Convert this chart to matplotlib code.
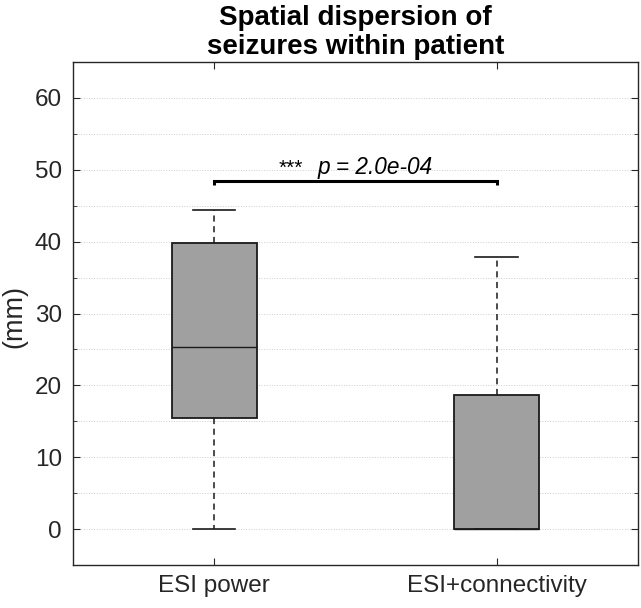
import matplotlib
matplotlib.use("Agg")
import matplotlib.pyplot as plt
from matplotlib.ticker import MultipleLocator

plt.rcParams['font.family'] = ['Liberation Sans', 'DejaVu Sans']

# Box statistics (mm)
groups = ["ESI power", "ESI+connectivity"]
q1 = [15.4, 0.0]
med = [25.3, 0.0]
q3 = [39.8, 18.7]
whis_lo = [0.0, 0.0]
whis_hi = [44.35, 37.9]

p_text = "p = 2.0e-04"
sig_y = 48.4

stats = []
for i in range(len(groups)):
    stats.append(dict(label=groups[i], q1=q1[i], med=med[i], q3=q3[i],
                      whislo=whis_lo[i], whishi=whis_hi[i], fliers=[]))

fig = plt.figure(figsize=(6.41, 6.08), dpi=100)
ax = fig.add_axes([0.114, 0.0707, 0.881, 0.8273])

ax.bxp(stats, positions=[1, 2], widths=0.3, patch_artist=True,
       boxprops=dict(facecolor='#a0a0a0', edgecolor='#1a1a1a', linewidth=1.3),
       medianprops=dict(color='#1a1a1a', linewidth=1.0),
       whiskerprops=dict(color='#1a1a1a', linestyle=(0, (4, 3)), linewidth=1.1),
       capprops=dict(color='#1a1a1a', linewidth=1.2),
       capwidths=0.15)

ax.set_xlim(0.5, 2.5)
ax.set_ylim(-5, 65)
ax.yaxis.set_major_locator(MultipleLocator(10))
ax.yaxis.set_minor_locator(MultipleLocator(5))
ax.set_xticks([1, 2])
ax.set_xticklabels(groups)
ax.tick_params(axis='both', which='both', direction='in', top=True, right=True,
               colors='#262626', labelsize=17.5)
ax.tick_params(axis='x', which='minor', bottom=False, top=False)
ax.tick_params(which='major', length=5)
ax.tick_params(which='minor', length=3)
ax.tick_params(axis='x', pad=7)
ax.tick_params(axis='y', pad=8)
for s in ax.spines.values():
    s.set_color('#262626')
    s.set_linewidth(1.0)

ax.grid(True, axis='y', which='both', linestyle=':', color='#cccccc', linewidth=0.7)
ax.set_axisbelow(True)

ax.set_ylabel("(mm)", fontsize=19.5, color='#262626')
ax.yaxis.set_label_coords(-0.081, 0.495)
ax.set_title("Spatial dispersion of\nseizures within patient", fontsize=20,
             fontweight='bold', pad=6, linespacing=1.12)

# significance bracket
ax.plot([1, 1, 2, 2], [sig_y - 0.5, sig_y, sig_y, sig_y - 0.5], color='black',
        linewidth=2.2, solid_capstyle='butt', solid_joinstyle='miter')
ax.text(1.27, 49.4, "***", fontsize=15, ha='center', va='baseline')
ax.text(1.365, 49.4, p_text, fontsize=16.3, style='italic', ha='left', va='baseline')

fig.savefig("out.png", dpi=100)
